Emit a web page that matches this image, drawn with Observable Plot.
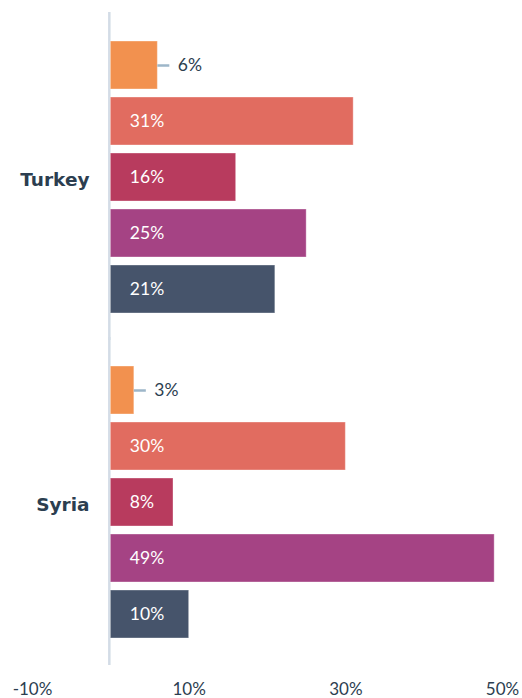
<!DOCTYPE html>
<html>
<head>
<meta charset="utf-8">
<script src="https://cdn.jsdelivr.net/npm/d3@7"></script>
<script src="https://cdn.jsdelivr.net/npm/@observablehq/plot@0.6"></script>
<style>
  html, body { margin: 0; padding: 0; background: #fff; }
</style>
</head>
<body>
<div id="chart"></div>
<script>
const groups = ["Turkey", "Syria"];
const series = ["1", "2", "3", "4", "5"];
const turkeyValues = [6, 31, 16, 25, 21];
const syriaValues = [3, 30, 8, 49, 10];
const xTicks = [-10, 10, 30, 50];
const palette = ["#f2914f", "#e16c60", "#b83b5e", "#a54384", "#46546b"];

const data = [
  ...series.map((s, i) => ({group: "Turkey", series: s, value: turkeyValues[i]})),
  ...series.map((s, i) => ({group: "Syria", series: s, value: syriaValues[i]}))
];
const inside = data.filter(d => d.value > 7);
const outside = data.filter(d => d.value <= 7);

const chart = Plot.plot({
  width: 522,
  height: 698,
  marginTop: 37,
  marginBottom: 56,
  marginLeft: 32,
  marginRight: 20,
  style: {fontFamily: "Lato, 'Open Sans', sans-serif", color: "#2c3e50", background: "#fff"},
  x: {domain: [-10, 50], axis: null},
  y: {domain: series, axis: null, paddingInner: 1/7, paddingOuter: 1/14},
  fy: {domain: groups, axis: null, paddingInner: 0.1385, paddingOuter: 0},
  color: {domain: series, range: palette},
  marks: [
    Plot.axisX({ticks: xTicks, tickFormat: d => d + "%", tickSize: 0, tickPadding: 40, label: null, fontSize: 17, fill: "#2c3e50"}),
    Plot.ruleX([0], {stroke: "#d3dce6", strokeWidth: 2.5, dx: -1.5, insetTop: -25, insetBottom: -23}),
    Plot.barX(data, {fy: "group", y: "series", x: "value", fill: "series", stroke: "#ffffff", strokeOpacity: 0.35, strokeWidth: 1}),
    Plot.text(inside, {fy: "group", y: "series", x: 0, text: d => d.value + "%", dx: 19, textAnchor: "start", fill: "#ffffff", fontSize: 17.5}),
    Plot.ruleY(outside, {fy: "group", y: "series", x1: "value", x2: "value", insetLeft: 0, insetRight: -12, stroke: "#9db6c9", strokeWidth: 2.5}),
    Plot.text(outside, {fy: "group", y: "series", x: "value", text: d => d.value + "%", dx: 20, textAnchor: "start", fill: "#2c3e50", fontSize: 17.5}),
    Plot.text(groups, {fy: d => d, text: d => d, frameAnchor: "left", dx: 57, dy: 3, textAnchor: "end", fill: "#2c3e50", fontSize: 18.5, fontWeight: "bold", fontFamily: "'DejaVu Sans', sans-serif"})
  ]
});

document.getElementById("chart").appendChild(chart);
</script>
</body>
</html>
